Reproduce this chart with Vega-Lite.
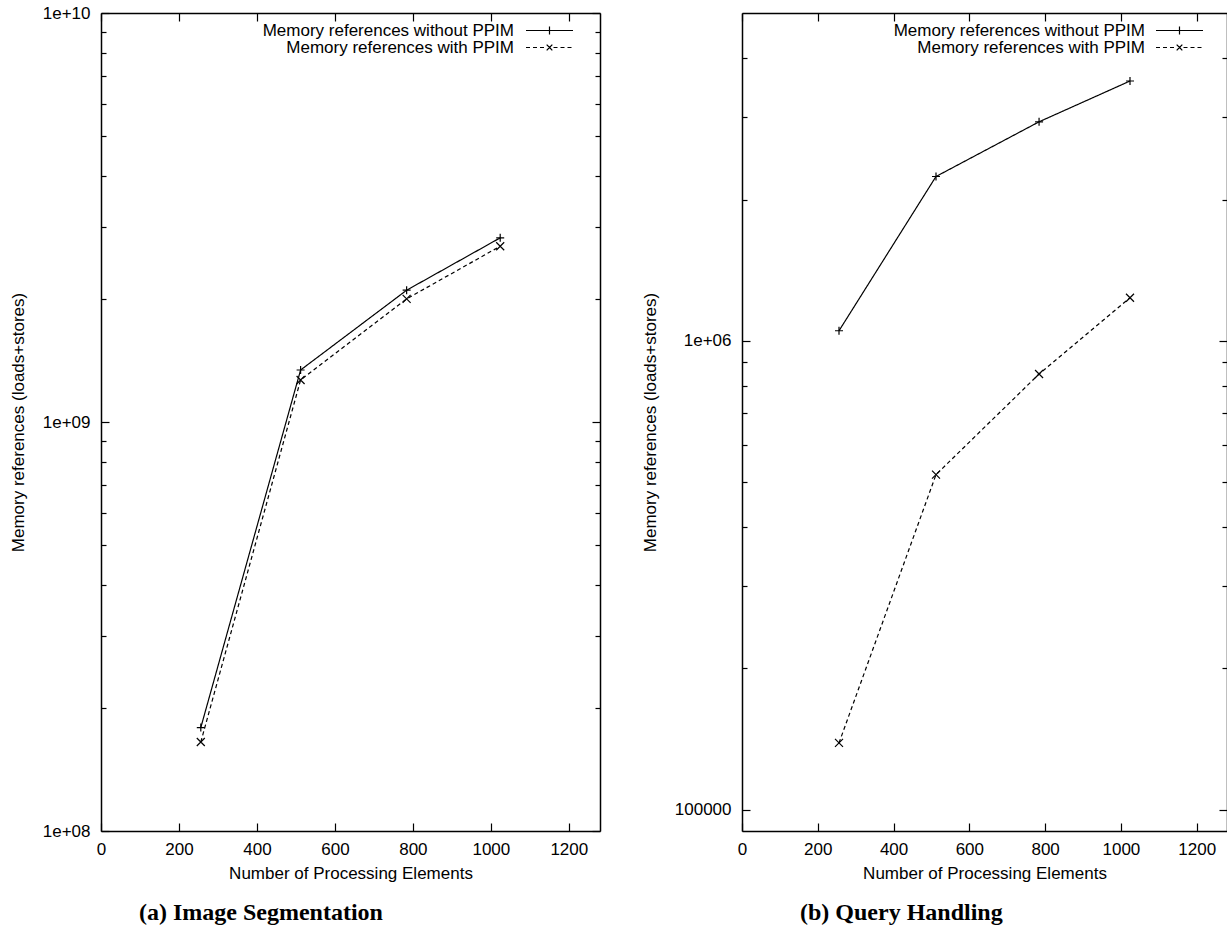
{
  "$schema": "https://vega.github.io/schema/vega-lite/v6.json",
  "padding": {"left": 9, "top": 4, "right": 0, "bottom": 0},
  "background": "white",
  "config": {
    "font": "Liberation Sans",
    "view": {"stroke": null},
    "axis": {
      "grid": false,
      "domainColor": "black",
      "domainWidth": 1.5,
      "tickColor": "black",
      "tickWidth": 1.2,
      "labelColor": "black",
      "titleColor": "black",
      "labelFontSize": 17,
      "titleFontSize": 17,
      "titleFontWeight": "normal",
      "labelFont": "Liberation Sans",
      "titleFont": "Liberation Sans",
      "labelOverlap": false,
      "labelFlush": false
    },
    "legend": {
      "title": null,
      "orient": "none",
      "legendY": 9,
      "symbolSize": 100,
      "labelAlign": "right",
      "labelFontSize": 17,
      "labelFont": "Liberation Sans",
      "labelColor": "black",
      "rowPadding": -1,
      "padding": 0,
      "symbolStrokeWidth": 1.2,
      "symbolStrokeColor": "black",
      "symbolFillColor": "transparent",
      "labelLimit": 0
    }
  },
  "datasets": {
    "a": [
      {"pe": 256, "refs": 179000000, "series": "Memory references without PPIM"},
      {"pe": 512, "refs": 1340000000, "series": "Memory references without PPIM"},
      {"pe": 784, "refs": 2100000000, "series": "Memory references without PPIM"},
      {"pe": 1024, "refs": 2820000000, "series": "Memory references without PPIM"},
      {"pe": 256, "refs": 165000000, "series": "Memory references with PPIM"},
      {"pe": 512, "refs": 1267000000, "series": "Memory references with PPIM"},
      {"pe": 784, "refs": 2000000000, "series": "Memory references with PPIM"},
      {"pe": 1024, "refs": 2690000000, "series": "Memory references with PPIM"}
    ],
    "b": [
      {"pe": 256, "refs": 1050000, "series": "Memory references without PPIM"},
      {"pe": 512, "refs": 2240000, "series": "Memory references without PPIM"},
      {"pe": 784, "refs": 2930000, "series": "Memory references without PPIM"},
      {"pe": 1024, "refs": 3580000, "series": "Memory references without PPIM"},
      {"pe": 256, "refs": 138700, "series": "Memory references with PPIM"},
      {"pe": 512, "refs": 518000, "series": "Memory references with PPIM"},
      {"pe": 784, "refs": 849000, "series": "Memory references with PPIM"},
      {"pe": 1024, "refs": 1235000, "series": "Memory references with PPIM"}
    ]
  },
  "spacing": 40,
  "resolve": {"scale": {"strokeDash": "independent", "shape": "independent"}, "legend": {"strokeDash": "independent", "shape": "independent"}},
  "hconcat": [
    {
      "width": 499,
      "height": 818,
      "data": {"name": "a"},
      "title": {"text": "(a) Image Segmentation", "orient": "bottom", "anchor": "start", "frame": "group", "dx": 38, "offset": 20, "font": "Liberation Serif", "fontSize": 24, "fontWeight": "bold", "color": "black"},
      "layer": [
        {
          "mark": {"type": "line", "color": "black", "strokeWidth": 1.2},
          "encoding": {
            "x": {"field": "pe", "type": "quantitative", "scale": {"domain": [0, 1280], "nice": false, "zero": false},
              "axis": {"orient": "bottom", "values": [0, 200, 400, 600, 800, 1000, 1200], "format": "d", "tickSize": -8, "labelPadding": 18, "title": "Number of Processing Elements", "titlePadding": 8}},
            "y": {"field": "refs", "type": "quantitative", "scale": {"type": "log", "domain": [100000000, 10000000000], "nice": false},
              "axis": {"orient": "left",
                "values": [100000000, 200000000, 300000000, 400000000, 500000000, 600000000, 700000000, 800000000, 900000000, 1000000000, 2000000000, 3000000000, 4000000000, 5000000000, 6000000000, 7000000000, 8000000000, 9000000000, 10000000000],
                "tickSize": {"condition": {"test": "datum.value == 100000000 || datum.value == 1000000000 || datum.value == 10000000000", "value": -8}, "value": -5},
                "labelPadding": 19,
                "labelExpr": "datum.value == 100000000 ? '1e+08' : datum.value == 1000000000 ? '1e+09' : datum.value == 10000000000 ? '1e+10' : ''",
                "title": "Memory references (loads+stores)", "titlePadding": 15}},
            "strokeDash": {"field": "series", "type": "nominal", "scale": {"domain": ["Memory references without PPIM", "Memory references with PPIM"], "range": [[1, 0], [4, 3]]},
              "legend": {"legendX": 440, "labelOffset": -44,
                "encoding": {"symbols": {"size": {"value": 100}, "shape": {"value": {"expr": "datum.value === 'Memory references without PPIM' ? 'M-4.7,0H4.7M0,-0.8V0.8' : 'M-4.7,0H-0.8M0.8,0H4.7M0,0L0.8,0.8M0,0L-0.8,0.8M0,0L0.8,-0.8M0,0L-0.8,-0.8'"}}}}}}
          }
        },
        {
          "mark": {"type": "point", "filled": false, "color": "black", "strokeWidth": 1.2, "size": 64, "opacity": 1},
          "encoding": {
            "x": {"field": "pe", "type": "quantitative", "scale": {"domain": [0, 1280], "nice": false, "zero": false},
              "axis": {"orient": "top", "values": [0, 200, 400, 600, 800, 1000, 1200], "tickSize": -8, "labels": false, "title": null}},
            "y": {"field": "refs", "type": "quantitative", "scale": {"type": "log", "domain": [100000000, 10000000000], "nice": false},
              "axis": {"orient": "right",
                "values": [100000000, 200000000, 300000000, 400000000, 500000000, 600000000, 700000000, 800000000, 900000000, 1000000000, 2000000000, 3000000000, 4000000000, 5000000000, 6000000000, 7000000000, 8000000000, 9000000000, 10000000000],
                "tickSize": {"condition": {"test": "datum.value == 100000000 || datum.value == 1000000000 || datum.value == 10000000000", "value": -8}, "value": -5},
                "labels": false, "title": null}},
            "shape": {"field": "series", "type": "nominal",
              "scale": {"domain": ["Memory references with PPIM", "Memory references without PPIM"], "range": ["M-1,-1L1,1M-1,1L1,-1", "M-1,0H1M0,-1V1"]},
              "legend": null}
          }
        }
      ],
      "resolve": {"axis": {"x": "independent", "y": "independent"}}
    },
    {
      "width": 485,
      "height": 818,
      "data": {"name": "b"},
      "title": {"text": "(b) Query Handling", "orient": "bottom", "anchor": "start", "frame": "group", "dx": 58, "offset": 20, "font": "Liberation Serif", "fontSize": 24, "fontWeight": "bold", "color": "black"},
      "layer": [
        {
          "mark": {"type": "line", "color": "black", "strokeWidth": 1.2},
          "encoding": {
            "x": {"field": "pe", "type": "quantitative", "scale": {"domain": [0, 1280], "nice": false, "zero": false},
              "axis": {"orient": "bottom", "values": [0, 200, 400, 600, 800, 1000, 1200], "format": "d", "tickSize": -8, "labelPadding": 18, "title": "Number of Processing Elements", "titlePadding": 8}},
            "y": {"field": "refs", "type": "quantitative", "scale": {"type": "log", "domain": [90000, 5000000], "nice": false},
              "axis": {"orient": "left",
                "values": [100000, 200000, 300000, 400000, 500000, 600000, 700000, 800000, 900000, 1000000, 2000000, 3000000, 4000000],
                "tickSize": {"condition": {"test": "datum.value == 100000 || datum.value == 1000000", "value": -8}, "value": -5},
                "labelPadding": 19,
                "labelExpr": "datum.value == 100000 ? '100000' : datum.value == 1000000 ? '1e+06' : ''",
                "title": "Memory references (loads+stores)", "titlePadding": 15}},
            "strokeDash": {"field": "series", "type": "nominal", "scale": {"domain": ["Memory references without PPIM", "Memory references with PPIM"], "range": [[1, 0], [4, 3]]},
              "legend": {"legendX": 429, "labelOffset": -43,
                "encoding": {"symbols": {"size": {"value": 100}, "shape": {"value": {"expr": "datum.value === 'Memory references without PPIM' ? 'M-4.7,0H4.7M0,-0.8V0.8' : 'M-4.7,0H-0.8M0.8,0H4.7M0,0L0.8,0.8M0,0L-0.8,0.8M0,0L0.8,-0.8M0,0L-0.8,-0.8'"}}}}}}
          }
        },
        {
          "mark": {"type": "point", "filled": false, "color": "black", "strokeWidth": 1.2, "size": 64, "opacity": 1},
          "encoding": {
            "x": {"field": "pe", "type": "quantitative", "scale": {"domain": [0, 1280], "nice": false, "zero": false},
              "axis": {"orient": "top", "values": [0, 200, 400, 600, 800, 1000, 1200], "tickSize": -8, "labels": false, "title": null}},
            "y": {"field": "refs", "type": "quantitative", "scale": {"type": "log", "domain": [90000, 5000000], "nice": false},
              "axis": {"orient": "right",
                "values": [100000, 200000, 300000, 400000, 500000, 600000, 700000, 800000, 900000, 1000000, 2000000, 3000000, 4000000],
                "tickSize": {"condition": {"test": "datum.value == 100000 || datum.value == 1000000", "value": -8}, "value": -5},
                "labels": false, "title": null}},
            "shape": {"field": "series", "type": "nominal",
              "scale": {"domain": ["Memory references with PPIM", "Memory references without PPIM"], "range": ["M-1,-1L1,1M-1,1L1,-1", "M-1,0H1M0,-1V1"]},
              "legend": null}
          }
        }
      ],
      "resolve": {"axis": {"x": "independent", "y": "independent"}}
    }
  ]
}
